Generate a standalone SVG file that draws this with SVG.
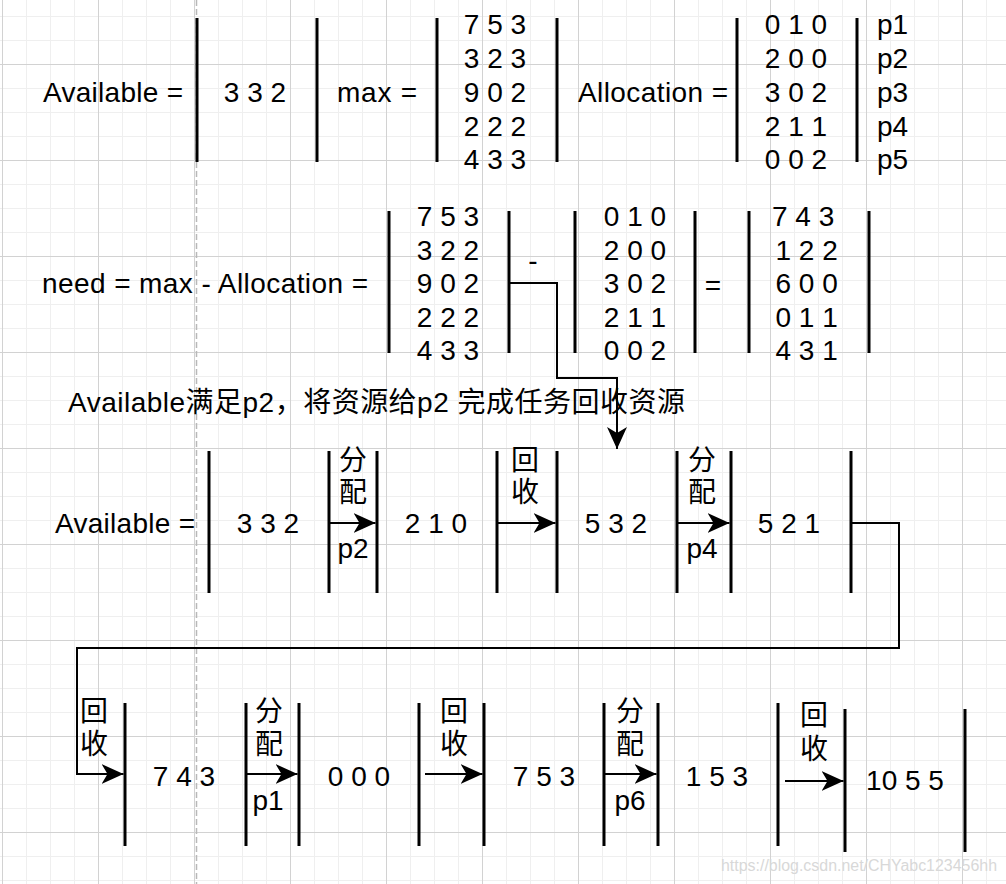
<svg xmlns="http://www.w3.org/2000/svg" width="1006" height="884" viewBox="0 0 1006 884">
<defs>
<pattern id="grid" patternUnits="userSpaceOnUse" x="2" y="64" width="96" height="96">
<rect width="96" height="96" fill="#ffffff"/>
<path d="M24.5,0V96M48.5,0V96M72.5,0V96M0,24.5H96M0,48.5H96M0,72.5H96" stroke="#efefef" stroke-width="1" fill="none"/>
<path d="M0.5,0V96M0,0.5H96" stroke="#d2d2d2" stroke-width="1" fill="none"/>
</pattern>
<marker id="arr" markerUnits="userSpaceOnUse" viewBox="0 0 22 20" refX="22" refY="10" markerWidth="22" markerHeight="20" orient="auto">
<path d="M0,0 L22,10 L0,20 L6,10 Z" fill="#000"/>
</marker>
<style>
.t{font-family:"Liberation Sans",Arial,"Noto Sans CJK SC",sans-serif;font-size:28px;fill:#000}
.m{text-anchor:middle}
.bar{stroke:#000;stroke-width:3;fill:none}
.ln{stroke:#000;stroke-width:2;fill:none}
.ar{stroke:#000;stroke-width:2;fill:none;marker-end:url(#arr)}
.wm{font-family:"Liberation Sans",Arial,sans-serif;font-size:16px;fill:#d8d8d8}
</style>
</defs>
<rect width="1006" height="884" fill="url(#grid)"/>
<line x1="196.5" y1="0" x2="196.5" y2="884" stroke="#b8b8b8" stroke-width="1.5" stroke-dasharray="6 3"/>

<!-- Row 1 -->
<g id="available-label"><text class="t" x="43" y="102" textLength="140" lengthAdjust="spacing">Available =</text></g>
<g id="available-vector">
<path class="bar" d="M197,18V162M317,18V162"/>
<text class="t m" x="255" y="102">3 3 2</text>
</g>
<g id="max-label"><text class="t" x="337" y="102" textLength="80" lengthAdjust="spacing">max =</text></g>
<g id="max-matrix">
<path class="bar" d="M437,18V162M557,18V162"/>
<text class="t m" x="495" y="34">7 5 3</text>
<text class="t m" x="495" y="68">3 2 3</text>
<text class="t m" x="495" y="102">9 0 2</text>
<text class="t m" x="495" y="136">2 2 2</text>
<text class="t m" x="495" y="169">4 3 3</text>
</g>
<g id="allocation-label"><text class="t" x="578" y="102" textLength="150" lengthAdjust="spacing">Allocation =</text></g>
<g id="allocation-matrix">
<path class="bar" d="M737,18V162M857,18V162"/>
<text class="t m" x="796" y="34">0 1 0</text>
<text class="t m" x="796" y="68">2 0 0</text>
<text class="t m" x="796" y="102">3 0 2</text>
<text class="t m" x="796" y="136">2 1 1</text>
<text class="t m" x="796" y="169">0 0 2</text>
</g>
<g id="process-labels">
<text class="t" x="877" y="34">p1</text>
<text class="t" x="877" y="68">p2</text>
<text class="t" x="877" y="102">p3</text>
<text class="t" x="877" y="136">p4</text>
<text class="t" x="877" y="169">p5</text>
</g>

<!-- Row 2 -->
<g id="need-label"><text class="t" x="42" y="293" textLength="326" lengthAdjust="spacing">need = max - Allocation =</text></g>
<g id="need-max-matrix">
<path class="bar" d="M389,211V353M509,211V353"/>
<text class="t m" x="448" y="226">7 5 3</text>
<text class="t m" x="448" y="259.5">3 2 2</text>
<text class="t m" x="448" y="293">9 0 2</text>
<text class="t m" x="448" y="326.5">2 2 2</text>
<text class="t m" x="448" y="360">4 3 3</text>
</g>
<g id="minus"><text class="t m" x="533" y="270">-</text></g>
<g id="need-alloc-matrix">
<path class="bar" d="M575,211V353M695,211V353"/>
<text class="t m" x="635" y="226">0 1 0</text>
<text class="t m" x="635" y="259.5">2 0 0</text>
<text class="t m" x="635" y="293">3 0 2</text>
<text class="t m" x="635" y="326.5">2 1 1</text>
<text class="t m" x="635" y="360">0 0 2</text>
</g>
<g id="equals"><text class="t m" x="713" y="295">=</text></g>
<g id="need-matrix">
<path class="bar" d="M749,211V353M869,211V353"/>
<text class="t" x="772" y="226">7 4 3</text>
<text class="t" x="775.5" y="259.5">1 2 2</text>
<text class="t" x="775.5" y="293">6 0 0</text>
<text class="t" x="775.5" y="326.5">0 1 1</text>
<text class="t" x="775.5" y="360">4 3 1</text>
</g>
<g id="caption"><text class="t" x="68" y="412" textLength="617" lengthAdjust="spacing">Available满足p2，将资源给p2 完成任务回收资源</text></g>

<!-- Row 3 -->
<g id="available-label-2"><text class="t" x="55" y="533" textLength="140" lengthAdjust="spacing">Available =</text></g>
<g id="step-332">
<path class="bar" d="M209,451V593"/>
<text class="t m" x="268" y="533">3 3 2</text>
</g>
<g id="alloc-p2">
<path class="bar" d="M329,451V593M377,451V593"/>
<text class="t m" x="353" y="470">分</text>
<text class="t m" x="353" y="502">配</text>
<text class="t m" x="353" y="558">p2</text>
</g>
<g id="step-210"><text class="t m" x="436" y="533">2 1 0</text></g>
<g id="reclaim-1">
<path class="bar" d="M497,451V593M557,451V593"/>
<text class="t m" x="525" y="470">回</text>
<text class="t m" x="525" y="502">收</text>
</g>
<g id="step-532"><text class="t m" x="616" y="533">5 3 2</text></g>
<g id="alloc-p4">
<path class="bar" d="M677,451V593M731,451V593"/>
<text class="t m" x="702" y="470">分</text>
<text class="t m" x="702" y="502">配</text>
<text class="t m" x="702" y="558">p4</text>
</g>
<g id="step-521">
<text class="t m" x="789" y="533">5 2 1</text>
<path class="bar" d="M851,451V593"/>
</g>

<!-- Row 4 -->
<g id="reclaim-2">
<text class="t m" x="94" y="721">回</text>
<text class="t m" x="94" y="754">收</text>
<path class="bar" d="M125,703V846"/>
</g>
<g id="step-743"><text class="t m" x="184" y="786">7 4 3</text></g>
<g id="alloc-p1">
<path class="bar" d="M246,703V846M299,703V846"/>
<text class="t m" x="269" y="721">分</text>
<text class="t m" x="269" y="754">配</text>
<text class="t m" x="268" y="810">p1</text>
</g>
<g id="step-000"><text class="t m" x="359" y="786">0 0 0</text></g>
<g id="reclaim-3">
<path class="bar" d="M419,703V846M484,703V846"/>
<text class="t m" x="454" y="721">回</text>
<text class="t m" x="454" y="754">收</text>
</g>
<g id="step-753"><text class="t m" x="544" y="786">7 5 3</text></g>
<g id="alloc-p6">
<path class="bar" d="M604,703V846M658,703V846"/>
<text class="t m" x="630" y="721">分</text>
<text class="t m" x="630" y="754">配</text>
<text class="t m" x="630" y="810">p6</text>
</g>
<g id="step-153"><text class="t m" x="717" y="786">1 5 3</text></g>
<g id="reclaim-4">
<path class="bar" d="M778,703V846M845,709V852"/>
<text class="t m" x="814" y="725">回</text>
<text class="t m" x="814" y="759">收</text>
</g>
<g id="step-1055">
<text class="t m" x="905" y="790">10 5 5</text>
<path class="bar" d="M965,709V852"/>
</g>

<!-- Connectors -->
<g id="connectors">
<path class="ar" d="M509,283H557V378H617V449"/>
<path class="ar" d="M329,523H375.5"/>
<path class="ar" d="M497,523H555.5"/>
<path class="ar" d="M677,523H729.5"/>
<path class="ar" d="M851,523H899V648H77V774H123.5"/>
<path class="ar" d="M246,774H297.5"/>
<path class="ar" d="M425,774H482.5"/>
<path class="ar" d="M604,774H656.5"/>
<path class="ar" d="M785,781H843.5"/>
</g>

<g id="watermark"><text class="wm" x="721" y="871" textLength="276" lengthAdjust="spacingAndGlyphs">https://blog.csdn.net/CHYabc123456hh</text></g>
</svg>
